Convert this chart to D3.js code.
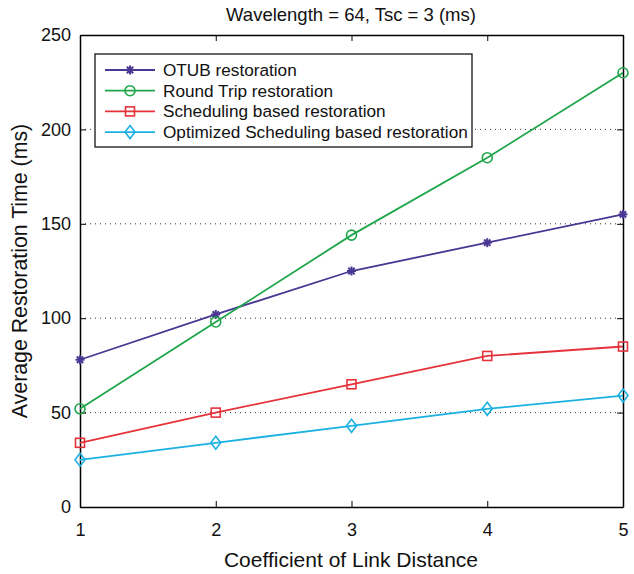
<!DOCTYPE html>
<html>
<head>
<meta charset="utf-8">
<script src="https://cdn.jsdelivr.net/npm/d3@7"></script>
<style>
  body { margin: 0; background: #fff; }
  text { font-family: "Liberation Sans", Arial, sans-serif; }
</style>
</head>
<body>
<svg id="chart" width="634" height="574"></svg>
<script>
const xValues = [1, 2, 3, 4, 5]
const otub = [78, 102, 125, 140, 155]
const roundTrip = [52, 98, 144, 185, 230]
const scheduling = [34, 50, 65, 80, 85]
const optimized = [25, 34, 43, 52, 59]
const yTicks = [0, 50, 100, 150, 200, 250]
const seriesNames = ["OTUB restoration", "Round Trip restoration", "Scheduling based restoration", "Optimized Scheduling based restoration"]

const series = [
  { name: seriesNames[0], values: otub, color: "#4a3793", marker: "star" },
  { name: seriesNames[1], values: roundTrip, color: "#1fa64a", marker: "circle" },
  { name: seriesNames[2], values: scheduling, color: "#e5323b", marker: "square" },
  { name: seriesNames[3], values: optimized, color: "#1cb1e2", marker: "diamond" }
]

const margin = { left: 80, right: 11, top: 35, bottom: 67 }
const width = 634, height = 574
const svg = d3.select("#chart")

const x = d3.scaleLinear().domain([1, 5]).range([margin.left, width - margin.right])
const y = d3.scaleLinear().domain([0, 250]).range([height - margin.bottom, margin.top])

// grid (dotted, y only)
svg.append("g").selectAll("line")
  .data(yTicks.filter(d => d > 0 && d < 250))
  .join("line")
  .attr("x1", x(1)).attr("x2", x(5))
  .attr("y1", d => y(d)).attr("y2", d => y(d))
  .attr("stroke", "#333").attr("stroke-width", 1)
  .attr("stroke-dasharray", "1,4")

// axes with inward ticks
const tickLen = 6
const xAxis = svg.append("g").attr("transform", `translate(0,${y(0)})`)
  .call(d3.axisBottom(x).tickValues(xValues).tickFormat(d3.format("d")).tickSizeInner(-tickLen).tickSizeOuter(0).tickPadding(16))
const yAxis = svg.append("g").attr("transform", `translate(${x(1)},0)`)
  .call(d3.axisLeft(y).tickValues(yTicks).tickSizeInner(-tickLen).tickSizeOuter(0).tickPadding(9))
const xTop = svg.append("g").attr("transform", `translate(0,${y(250)})`)
  .call(d3.axisTop(x).tickValues(xValues).tickFormat("").tickSizeInner(-tickLen).tickSizeOuter(0))
const yRight = svg.append("g").attr("transform", `translate(${x(5)},0)`)
  .call(d3.axisRight(y).tickValues(yTicks).tickFormat("").tickSizeInner(-tickLen).tickSizeOuter(0))

;[xAxis, yAxis, xTop, yRight].forEach(g => {
  g.selectAll("path.domain").attr("stroke", "#000").attr("stroke-width", 1.5)
  g.selectAll(".tick line").attr("stroke", "#000")
  g.selectAll("text").attr("font-size", 18).attr("fill", "#111")
    .style("font-family", "'Liberation Sans', Arial, sans-serif")
})

// marker drawing
const drawMarker = (g, type, cx, cy, color) => {
  if (type === "circle") {
    g.append("circle").attr("cx", cx).attr("cy", cy).attr("r", 5)
      .attr("fill", "none").attr("stroke", color).attr("stroke-width", 1.6)
  } else if (type === "square") {
    g.append("rect").attr("x", cx - 4.5).attr("y", cy - 4.5).attr("width", 9).attr("height", 9)
      .attr("fill", "none").attr("stroke", color).attr("stroke-width", 1.6)
  } else if (type === "diamond") {
    g.append("path").attr("d", `M${cx},${cy - 6.5}L${cx + 5},${cy}L${cx},${cy + 6.5}L${cx - 5},${cy}Z`)
      .attr("fill", "none").attr("stroke", color).attr("stroke-width", 1.6)
  } else {
    const r = 4.5
    for (let k = 0; k < 4; k++) {
      const a = k * Math.PI / 4
      g.append("line")
        .attr("x1", cx - r * Math.cos(a)).attr("y1", cy - r * Math.sin(a))
        .attr("x2", cx + r * Math.cos(a)).attr("y2", cy + r * Math.sin(a))
        .attr("stroke", color).attr("stroke-width", 2)
    }
  }
}

const line = d3.line().x((d, i) => x(xValues[i])).y(d => y(d))

series.forEach(s => {
  const g = svg.append("g")
  g.append("path").datum(s.values).attr("d", line)
    .attr("fill", "none").attr("stroke", s.color).attr("stroke-width", 1.8)
  s.values.forEach((v, i) => drawMarker(g, s.marker, x(xValues[i]), y(v), s.color))
})

// legend
const legend = svg.append("g")
legend.append("rect").attr("x", 95).attr("y", 54).attr("width", 377).attr("height", 93)
  .attr("fill", "#fff").attr("stroke", "#000").attr("stroke-width", 1.2)
series.forEach((s, i) => {
  const ly = 70 + i * 20.7
  legend.append("line").attr("x1", 105).attr("x2", 155).attr("y1", ly).attr("y2", ly)
    .attr("stroke", s.color).attr("stroke-width", 1.8)
  drawMarker(legend, s.marker, 130, ly, s.color)
  legend.append("text").attr("x", 163).attr("y", ly + 6).attr("font-size", 17.2).attr("fill", "#111").text(s.name)
})

// labels
svg.append("text").attr("x", 351).attr("y", 21).attr("text-anchor", "middle")
  .attr("font-size", 18.5).attr("fill", "#111").text("Wavelength = 64, Tsc = 3 (ms)")
svg.append("text").attr("x", 351).attr("y", 567).attr("text-anchor", "middle")
  .attr("font-size", 21).attr("fill", "#111").text("Coefficient of Link Distance")
svg.append("text").attr("transform", `translate(27,271) rotate(-90)`).attr("text-anchor", "middle")
  .attr("font-size", 21.3).attr("fill", "#111").text("Average Restoration Time (ms)")
</script>
</body>
</html>
